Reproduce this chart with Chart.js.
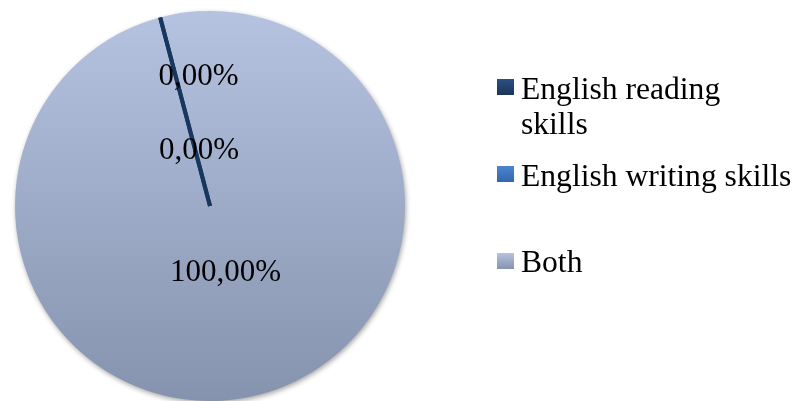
<!DOCTYPE html>
<html>
<head>
<meta charset="utf-8">
<script src="https://cdn.jsdelivr.net/npm/chart.js@4.4.1/dist/chart.umd.min.js"></script>
<style>
    body { margin: 0; background: #fff; }
    #wrap { position: relative; width: 797px; height: 401px; }
    #skillsChart { position: absolute; left: 0; top: 0; }
    .legend-item { position: absolute; left: 497px; font-family: 'Liberation Serif', 'Times New Roman', serif; font-size: 31.6px; line-height: 35px; color: #000; }
    .legend-box { position: absolute; left: 0; width: 17px; height: 16px; }
    .legend-text { position: absolute; left: 24px; top: 0; white-space: nowrap; }
</style>
</head>
<body>
<div id="wrap">
    <canvas id="skillsChart" width="797" height="401"></canvas>
    <div id="legend"></div>
</div>
<script>
const categories = ['English reading skills', 'English writing skills', 'Both'];
const shares = [0, 0, 100];
const sliceTop = ['#2C5082', '#4A86CF', '#B5C3E1'];
const sliceBottom = ['#1B3459', '#3466AC', '#8693AE'];
const edgeColor = '#17375E';
// where each percentage sits: fraction of the radius along the slice middle, plus a sideways nudge
const labelRadius = [0.69, 0.30, 0.35];
const labelNudge = [23, 4, -2];
// legend rows: text top and box top
const legendTop = [71, 158, 244];
const legendBoxTop = [8, 8, 9];

let total = shares.reduce((a, b) => a + b, 0);
let pctText = shares.map(v => (v / total * 100).toFixed(2).replace('.', ',') + '%');

function sliceFill(context) {
    let area = context.chart.chartArea;
    if (!area) return sliceTop[context.dataIndex];
    let g = context.chart.ctx.createLinearGradient(0, area.top, 0, area.bottom);
    g.addColorStop(0, sliceTop[context.dataIndex]);
    g.addColorStop(1, sliceBottom[context.dataIndex]);
    return g;
}

// soft shadow under the pie
const shadowPlugin = {
    id: 'pieShadow',
    beforeDatasetDraw(chart) {
        let ctx = chart.ctx;
        ctx.save();
        ctx.shadowColor = 'rgba(0,0,0,0.35)';
        ctx.shadowBlur = 5;
        ctx.shadowOffsetX = 1;
        ctx.shadowOffsetY = 2;
    },
    afterDatasetDraw(chart) {
        chart.ctx.restore();
    }
};

// empty slices have no area, so draw their edge and all the value labels here
const sliceLabels = {
    id: 'sliceLabels',
    afterDatasetsDraw(chart) {
        let ctx = chart.ctx;
        let arcs = chart.getDatasetMeta(0).data;
        ctx.save();
        arcs.forEach((arc, i) => {
            let p = arc.getProps(['x', 'y', 'startAngle', 'endAngle', 'outerRadius']);
            if (shares[i] === 0) {
                ctx.strokeStyle = edgeColor;
                ctx.lineWidth = 4;
                ctx.beginPath();
                ctx.moveTo(p.x, p.y);
                ctx.lineTo(p.x + Math.cos(p.startAngle) * p.outerRadius, p.y + Math.sin(p.startAngle) * p.outerRadius);
                ctx.stroke();
            }
        });
        ctx.fillStyle = '#000';
        ctx.font = '31px "Liberation Serif", "Times New Roman", serif';
        ctx.textAlign = 'center';
        ctx.textBaseline = 'middle';
        arcs.forEach((arc, i) => {
            let p = arc.getProps(['x', 'y', 'startAngle', 'endAngle', 'outerRadius']);
            let mid = (p.startAngle + p.endAngle) / 2;
            let d = p.outerRadius * labelRadius[i];
            ctx.fillText(pctText[i], p.x + Math.cos(mid) * d + labelNudge[i], p.y + Math.sin(mid) * d + 1);
        });
        ctx.restore();
    }
};

let ctx = document.getElementById('skillsChart').getContext('2d');
const skillsChart = new Chart(ctx, {
    type: 'pie',
    data: {
        labels: categories,
        datasets: [{
            data: shares,
            backgroundColor: sliceFill,
            borderWidth: 0
        }]
    },
    options: {
        responsive: false,
        animation: false,
        rotation: -14.8,
        layout: { padding: { left: 15, right: 392, top: 11, bottom: 0 } },
        plugins: {
            legend: { display: false },
            tooltip: { enabled: false }
        }
    },
    plugins: [shadowPlugin, sliceLabels]
});

let legend = document.getElementById('legend');
categories.forEach((name, i) => {
    let item = document.createElement('div');
    item.className = 'legend-item';
    item.style.top = legendTop[i] + 'px';
    let box = document.createElement('div');
    box.className = 'legend-box';
    box.style.top = legendBoxTop[i] + 'px';
    box.style.background = 'linear-gradient(' + sliceTop[i] + ', ' + sliceBottom[i] + ')';
    let text = document.createElement('div');
    text.className = 'legend-text';
    if (i === 0) {
        text.style.whiteSpace = 'normal';
        text.style.width = '240px';
    }
    text.textContent = name;
    item.appendChild(box);
    item.appendChild(text);
    legend.appendChild(item);
});
</script>
</body>
</html>
